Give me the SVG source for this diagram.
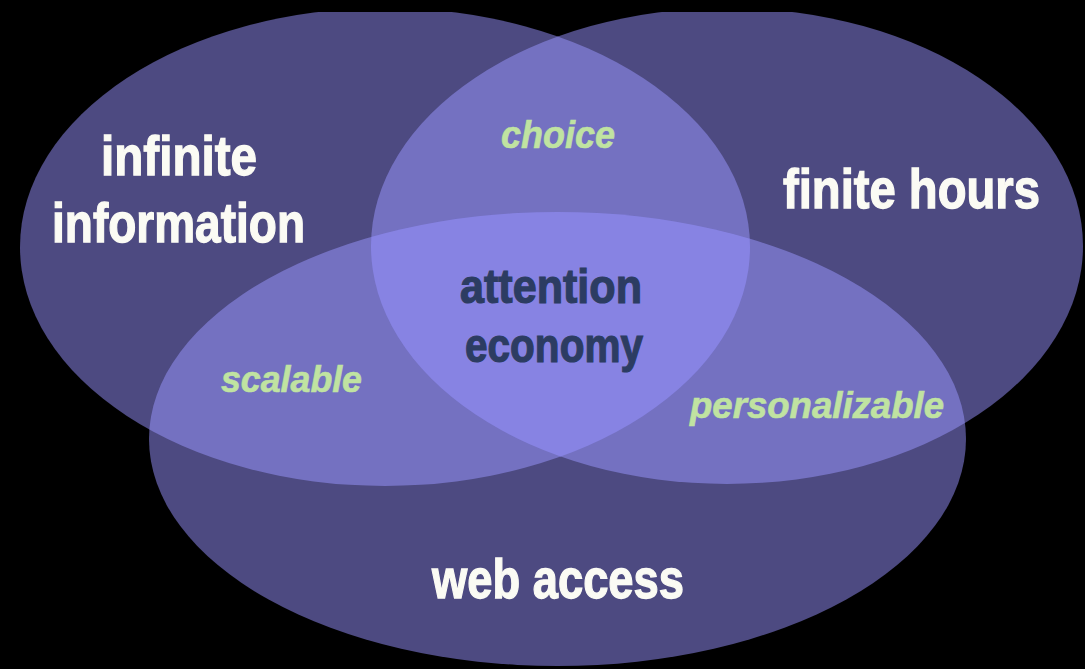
<svg xmlns="http://www.w3.org/2000/svg" width="1085" height="669" viewBox="0 0 1085 669">
  <defs>
    <clipPath id="clipTop"><rect x="0" y="12" width="1085" height="657"/></clipPath>
    <clipPath id="clipL"><ellipse cx="385" cy="247" rx="365" ry="239"/></clipPath>
    <clipPath id="clipR"><ellipse cx="727" cy="246" rx="356" ry="238"/></clipPath>
    <style>
      .single { fill: #4d4a81; }
      .double { fill: #7471c1; }
      .triple { fill: #8783e3; }
      .main { font-family: "Liberation Sans", Arial, sans-serif; font-weight: bold; fill: #fbfbf4; stroke: #fbfbf4; stroke-width: 1.3; }
      .pair { font-family: "Liberation Sans", Arial, sans-serif; font-weight: bold; font-style: italic; fill: #c0e3a1; stroke: #c0e3a1; stroke-width: 0.6; }
      .core { font-family: "Liberation Sans", Arial, sans-serif; font-weight: bold; fill: #2c3c62; stroke: #2c3c62; stroke-width: 1.2; }
    </style>
  </defs>
  <rect x="0" y="0" width="1085" height="669" fill="#000000"/>
  <g clip-path="url(#clipTop)">
    <g id="set-infinite-information">
      <ellipse class="single" cx="385" cy="247" rx="365" ry="239"/>
    </g>
    <g id="set-finite-hours">
      <ellipse class="single" cx="727" cy="246" rx="356" ry="238"/>
    </g>
    <g id="set-web-access">
      <ellipse class="single" cx="557.5" cy="439" rx="408.5" ry="227"/>
    </g>
    <g id="overlap-choice">
      <ellipse class="double" cx="727" cy="246" rx="356" ry="238" clip-path="url(#clipL)"/>
    </g>
    <g id="overlap-scalable">
      <ellipse class="double" cx="557.5" cy="439" rx="408.5" ry="227" clip-path="url(#clipL)"/>
    </g>
    <g id="overlap-personalizable">
      <ellipse class="double" cx="557.5" cy="439" rx="408.5" ry="227" clip-path="url(#clipR)"/>
    </g>
    <g id="overlap-attention-economy">
      <g clip-path="url(#clipL)">
        <ellipse class="triple" cx="557.5" cy="439" rx="408.5" ry="227" clip-path="url(#clipR)"/>
      </g>
    </g>
  </g>
  <g id="labels">
    <text class="main" x="101" y="175" font-size="56" textLength="156" lengthAdjust="spacingAndGlyphs">infinite</text>
    <text class="main" x="52" y="242" font-size="56" textLength="253" lengthAdjust="spacingAndGlyphs">information</text>
    <text class="main" x="783" y="208" font-size="55" textLength="257" lengthAdjust="spacingAndGlyphs">finite hours</text>
    <text class="main" x="432" y="598" font-size="55" textLength="252" lengthAdjust="spacingAndGlyphs">web access</text>
    <text class="pair" x="501" y="148" font-size="38" textLength="114" lengthAdjust="spacingAndGlyphs">choice</text>
    <text class="pair" x="221" y="392" font-size="37" textLength="141" lengthAdjust="spacingAndGlyphs">scalable</text>
    <text class="pair" x="690" y="418" font-size="37" textLength="254" lengthAdjust="spacingAndGlyphs">personalizable</text>
    <text class="core" x="460" y="303" font-size="48" textLength="182" lengthAdjust="spacingAndGlyphs">attention</text>
    <text class="core" x="465" y="362" font-size="48" textLength="178" lengthAdjust="spacingAndGlyphs">economy</text>
  </g>
</svg>
